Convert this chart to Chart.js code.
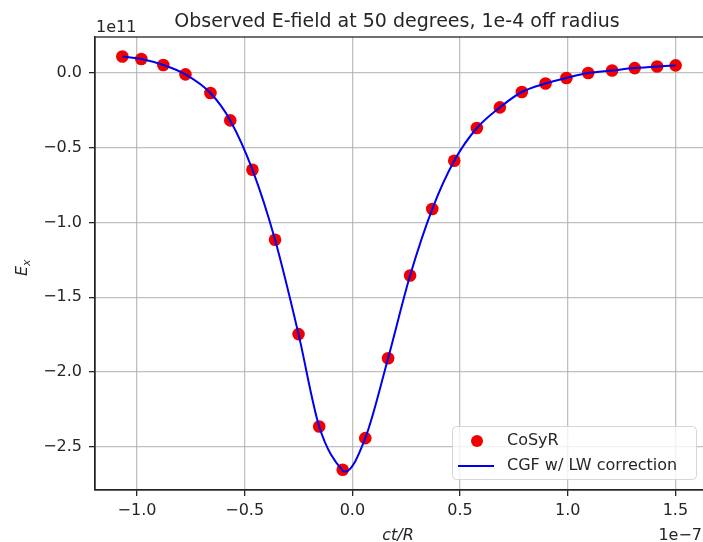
<!DOCTYPE html>
<html>
<head>
<meta charset="utf-8">
<script src="https://cdn.jsdelivr.net/npm/chart.js@4.4.1/dist/chart.umd.min.js"></script>
<style>
  html, body { margin: 0; padding: 0; background: #fff; overflow: hidden; }
  canvas { display: block; }
</style>
</head>
<body>
<canvas id="efield" width="711" height="542"></canvas>
<script>
// x in units of 1e-7 (ct/R), y in units of 1e11 (E_x)
const cosyrX = [-1.068, -0.980, -0.878, -0.775, -0.659, -0.567, -0.464, -0.359, -0.250, -0.154,
                -0.045, 0.060, 0.166, 0.268, 0.371, 0.473, 0.578, 0.685, 0.787, 0.897,
                0.994, 1.095, 1.206, 1.311, 1.415, 1.501];
const cosyrY = [0.111, 0.094, 0.054, -0.009, -0.134, -0.317, -0.647, -1.116, -1.747, -2.365,
                -2.655, -2.443, -1.908, -1.355, -0.910, -0.587, -0.368, -0.230, -0.127, -0.070,
                -0.033, 0.000, 0.017, 0.033, 0.044, 0.051];

const cgfX = [-1.068, -0.980, -0.878, -0.775, -0.659, -0.567, -0.464, -0.359, -0.250, -0.154,
              -0.045, -0.034, 0.060, 0.166, 0.268, 0.371, 0.473, 0.578, 0.685, 0.787, 0.897,
              0.994, 1.095, 1.206, 1.311, 1.415, 1.501];
const cgfY = [0.111, 0.094, 0.054, -0.009, -0.134, -0.317, -0.647, -1.116, -1.747, -2.365,
              -2.660, -2.667, -2.443, -1.908, -1.355, -0.910, -0.587, -0.368, -0.230, -0.127, -0.070,
              -0.033, 0.000, 0.017, 0.033, 0.044, 0.051];

const xTicks = [-1.0, -0.5, 0.0, 0.5, 1.0, 1.5];
const yTicks = [0.0, -0.5, -1.0, -1.5, -2.0, -2.5];

const titleText = 'Observed E-field at 50 degrees, 1e-4 off radius';
const FONT = '"DejaVu Sans", sans-serif';
const INK = '#262626';

function fmt(v) {
    return v.toFixed(1).replace('-', '\u2212');
}

// title, offsets, axis labels, full frame, in-axes legend
const decorations = {
    id: 'decorations',
    afterDraw(chart) {
        const ctx = chart.ctx;
        const a = chart.chartArea;
        ctx.save();

        // top and right spines
        ctx.strokeStyle = INK;
        ctx.lineWidth = 1.3;
        ctx.strokeRect(a.left, a.top, a.right - a.left, a.bottom - a.top);

        ctx.fillStyle = INK;
        ctx.textBaseline = 'alphabetic';

        ctx.font = '19px ' + FONT;
        ctx.textAlign = 'center';
        ctx.fillText(titleText, 397, 27);

        ctx.font = '16px ' + FONT;
        ctx.textAlign = 'left';
        ctx.fillText('1e11', a.left + 1, 32);
        ctx.textAlign = 'right';
        ctx.fillText('1e\u22127', 702, 540);

        // x label
        ctx.font = 'italic 16px ' + FONT;
        ctx.textAlign = 'center';
        ctx.fillText('ct/R', 398, 540);

        // y label E_x rotated
        ctx.save();
        ctx.translate(27, 268);
        ctx.rotate(-Math.PI / 2);
        ctx.font = 'italic 16px ' + FONT;
        ctx.textAlign = 'right';
        ctx.fillText('E', 2, 0);
        ctx.font = 'italic 11px ' + FONT;
        ctx.textAlign = 'left';
        ctx.fillText('x', 2, 3);
        ctx.restore();

        // legend box
        const lx = 452.5, ly = 426.5, lw = 244, lh = 53;
        ctx.beginPath();
        ctx.roundRect(lx, ly, lw, lh, 4);
        ctx.fillStyle = 'rgba(255,255,255,0.8)';
        ctx.fill();
        ctx.strokeStyle = '#d6d6d6';
        ctx.lineWidth = 1;
        ctx.stroke();

        ctx.beginPath();
        ctx.arc(477, 441, 6, 0, Math.PI * 2);
        ctx.fillStyle = '#f00000';
        ctx.fill();

        ctx.beginPath();
        ctx.moveTo(458, 466);
        ctx.lineTo(494, 466);
        ctx.strokeStyle = '#0000f0';
        ctx.lineWidth = 2;
        ctx.stroke();

        ctx.fillStyle = INK;
        ctx.font = '16px ' + FONT;
        ctx.textAlign = 'left';
        ctx.textBaseline = 'middle';
        ctx.fillText('CoSyR', 507, 441);
        ctx.fillText('CGF w/ LW correction', 507, 466);

        ctx.restore();
    }
};

const ctx = document.getElementById('efield').getContext('2d');
new Chart(ctx, {
    type: 'scatter',
    data: {
        datasets: [
            {
                label: 'CoSyR',
                data: cosyrX.map((x, i) => ({ x: x, y: cosyrY[i] })),
                backgroundColor: '#f00000',
                borderWidth: 0,
                pointRadius: 6.3,
                showLine: false,
                order: 2
            },
            {
                label: 'CGF w/ LW correction',
                data: cgfX.map((x, i) => ({ x: x, y: cgfY[i] })),
                borderColor: '#0000f0',
                borderWidth: 2,
                pointRadius: 0,
                showLine: true,
                cubicInterpolationMode: 'monotone',
                order: 1
            }
        ]
    },
    options: {
        responsive: false,
        animation: false,
        devicePixelRatio: 1,
        layout: { padding: { top: 37, right: 0, left: 0, bottom: 0 } },
        plugins: {
            legend: { display: false },
            tooltip: { enabled: false },
            title: { display: false }
        },
        scales: {
            x: {
                type: 'linear',
                min: -1.195,
                max: 1.636,
                afterFit(scale) { scale.height = 52; },
                afterBuildTicks(scale) { scale.ticks = xTicks.map(v => ({ value: v })); },
                grid: {
                    color: 'rgba(176,176,176,0.8)',
                    lineWidth: 1.3,
                    tickColor: INK,
                    tickLength: 6,
                    drawTicks: true
                },
                border: { display: true, color: INK, width: 1.3 },
                ticks: {
                    autoSkip: false,
                    maxRotation: 0,
                    padding: 5,
                    color: INK,
                    font: { family: FONT, size: 16 },
                    callback: v => fmt(v)
                }
            },
            y: {
                type: 'linear',
                min: -2.79,
                max: 0.241,
                afterFit(scale) { scale.width = 95; },
                afterBuildTicks(scale) { scale.ticks = yTicks.map(v => ({ value: v })); },
                grid: {
                    color: 'rgba(176,176,176,0.8)',
                    lineWidth: 1.3,
                    tickColor: INK,
                    tickLength: 6,
                    drawTicks: true
                },
                border: { display: true, color: INK, width: 1.3 },
                ticks: {
                    autoSkip: false,
                    padding: 7,
                    color: INK,
                    font: { family: FONT, size: 16 },
                    callback: v => fmt(v)
                }
            }
        }
    },
    plugins: [decorations]
});
</script>
</body>
</html>
